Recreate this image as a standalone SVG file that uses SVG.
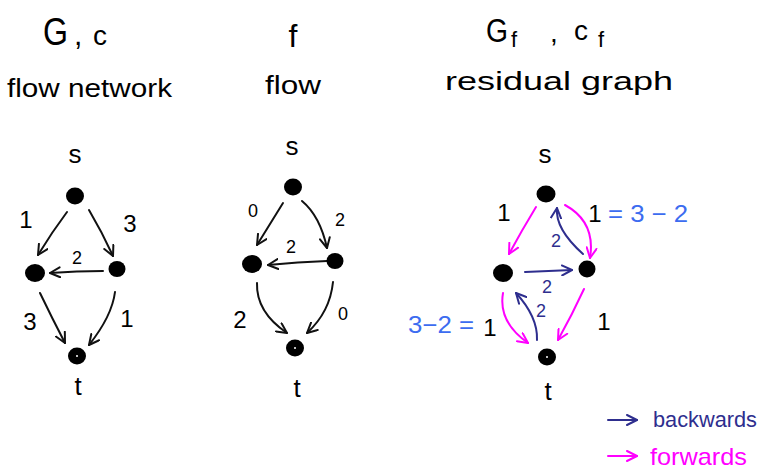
<svg xmlns="http://www.w3.org/2000/svg" width="764" height="473" viewBox="0 0 764 473">
<style>
text{font-family:"Liberation Sans","DejaVu Sans",sans-serif;}
.t{font-size:26px;fill:#000;text-anchor:middle;}
.lbl{font-size:24px;fill:#000;text-anchor:middle;}
.sm{font-size:18px;text-anchor:middle;}
.e{fill:none;stroke-width:2;stroke-linecap:round;}
.k{stroke:#111;}
.n{stroke:#2e2e8e;}
.m{stroke:#ff00ff;}
.node{fill:#000;}
.blue{fill:#3c6cf0;font-size:24px;}
</style>
<defs>
<marker id="ak" viewBox="0 0 12 12" refX="11" refY="6" markerWidth="12" markerHeight="12" markerUnits="userSpaceOnUse" orient="auto"><path d="M1,1 L11,6 L1,11" fill="none" stroke="#111" stroke-width="2" stroke-linecap="round" stroke-linejoin="round"/></marker>
<marker id="an" viewBox="0 0 12 12" refX="11" refY="6" markerWidth="12" markerHeight="12" markerUnits="userSpaceOnUse" orient="auto"><path d="M1,1 L11,6 L1,11" fill="none" stroke="#2e2e8e" stroke-width="2" stroke-linecap="round" stroke-linejoin="round"/></marker>
<marker id="am" viewBox="0 0 12 12" refX="11" refY="6" markerWidth="12" markerHeight="12" markerUnits="userSpaceOnUse" orient="auto"><path d="M1,1 L11,6 L1,11" fill="none" stroke="#ff00ff" stroke-width="2" stroke-linecap="round" stroke-linejoin="round"/></marker>
</defs>

<g id="titles">
<text x="43" y="45" font-size="38" textLength="25" lengthAdjust="spacingAndGlyphs">G</text>
<text x="74" y="45" font-size="30">,</text>
<text x="93" y="45" font-size="28">c</text>
<text x="7" y="97" font-size="26" textLength="165" lengthAdjust="spacingAndGlyphs">flow network</text>
<text x="293" y="47" font-size="32" text-anchor="middle">f</text>
<text x="265" y="94" font-size="26" textLength="56" lengthAdjust="spacingAndGlyphs">flow</text>
<text x="486" y="42" font-size="34" textLength="22" lengthAdjust="spacingAndGlyphs">G</text>
<text x="511" y="47" font-size="22">f</text>
<text x="550" y="42" font-size="28">,</text>
<text x="574" y="40" font-size="28">c</text>
<text x="598" y="47" font-size="22">f</text>
<text x="445" y="90" font-size="26" textLength="228" lengthAdjust="spacingAndGlyphs">residual graph</text>
</g>

<g id="connectors">
<!-- left graph -->
<path class="e k" d="M67,212 Q52,232 38,255" marker-end="url(#ak)"/>
<path class="e k" d="M89,210 Q102,232 113,256" marker-end="url(#ak)"/>
<path class="e k" d="M103,271 Q77,271 50,273" marker-end="url(#ak)"/>
<path class="e k" d="M40,293 Q52,318 65,343" marker-end="url(#ak)"/>
<path class="e k" d="M115,292 Q112,316 89,345" marker-end="url(#ak)"/>
<!-- middle graph -->
<path class="e k" d="M283,203 Q270,224 257,245" marker-end="url(#ak)"/>
<path class="e k" d="M302,201 Q320,216 327,248" marker-end="url(#ak)"/>
<path class="e k" d="M327,261 Q298,262 268,265" marker-end="url(#ak)"/>
<path class="e k" d="M257,283 Q256,312 287,333" marker-end="url(#ak)"/>
<path class="e k" d="M333,282 Q330,312 307,333" marker-end="url(#ak)"/>
<!-- residual graph -->
<path class="e m" d="M536,207 Q522,230 509,254" marker-end="url(#am)"/>
<path class="e m" d="M565,205 Q596,222 590,258" marker-end="url(#am)"/>
<path class="e n" d="M583,254 Q555,229 557,208" marker-end="url(#an)"/>
<path class="e n" d="M525,272 Q548,271 572,270" marker-end="url(#an)"/>
<path class="e m" d="M503,293 Q498,322 528,343" marker-end="url(#am)"/>
<path class="e n" d="M537,340 Q538,317 516,293" marker-end="url(#an)"/>
<path class="e m" d="M584,289 Q572,315 558,340" marker-end="url(#am)"/>
<!-- legend -->
<path class="e n" d="M608,420 L637,420" marker-end="url(#an)"/>
<path class="e m" d="M608,456 L637,456" marker-end="url(#am)"/>
</g>

<g id="edge-labels">
<text class="lbl" x="26" y="228">1</text>
<text class="lbl" x="130" y="232" font-size="30">3</text>
<text class="sm" x="77" y="264">2</text>
<text class="lbl" x="30" y="330" font-size="30">3</text>
<text class="lbl" x="127" y="327">1</text>

<text class="sm" x="253" y="217">0</text>
<text class="sm" x="340" y="226" font-size="20">2</text>
<text class="sm" x="291" y="253">2</text>
<text class="lbl" x="240" y="328" font-size="28">2</text>
<text class="sm" x="343" y="320">0</text>

<text class="lbl" x="504" y="221" fill="#ff00ff">1</text>
<text class="lbl" x="595" y="222" fill="#ff00ff">1</text>
<text class="blue" x="608" y="222" textLength="80" lengthAdjust="spacingAndGlyphs">= 3 − 2</text>
<text class="blue" x="408" y="333" textLength="66" lengthAdjust="spacingAndGlyphs">3−2 =</text>
<text class="lbl" x="490" y="336" fill="#ff00ff">1</text>
<text class="lbl" x="604" y="330" fill="#ff00ff">1</text>
<text class="sm" x="556" y="247" fill="#2e2e8e">2</text>
<text class="sm" x="547" y="293" fill="#2e2e8e">2</text>
<text class="sm" x="541" y="317" fill="#2e2e8e">2</text>
</g>

<g id="node-s1"><ellipse class="node" cx="75" cy="196" rx="9" ry="8.5"/><text class="t" x="75" y="163">s</text></g>
<g id="node-a1"><ellipse class="node" cx="35" cy="273" rx="10" ry="9"/></g>
<g id="node-b1"><ellipse class="node" cx="117" cy="269" rx="8.5" ry="8"/></g>
<g id="node-t1"><ellipse class="node" cx="77" cy="356" rx="9" ry="8.5"/><circle cx="77" cy="356" r="1" fill="#fff"/><text class="t" x="78" y="395">t</text></g>

<g id="node-s2"><ellipse class="node" cx="293" cy="187" rx="9" ry="8.5"/><text class="t" x="292" y="155">s</text></g>
<g id="node-a2"><ellipse class="node" cx="252" cy="264" rx="10" ry="9"/></g>
<g id="node-b2"><ellipse class="node" cx="335" cy="261" rx="8.5" ry="8"/></g>
<g id="node-t2"><ellipse class="node" cx="295" cy="348" rx="9" ry="8.5"/><circle cx="295" cy="348" r="1" fill="#fff"/><text class="t" x="297" y="397">t</text></g>

<g id="node-s3"><ellipse class="node" cx="546" cy="194" rx="9.5" ry="8.5"/><text class="t" x="545" y="163">s</text></g>
<g id="node-a3"><ellipse class="node" cx="503" cy="273" rx="10" ry="9"/></g>
<g id="node-b3"><ellipse class="node" cx="587" cy="269" rx="8.5" ry="8.5"/></g>
<g id="node-t3"><ellipse class="node" cx="547" cy="357" rx="9" ry="8.5"/><circle cx="547" cy="357" r="1" fill="#fff"/><text class="t" x="548" y="400">t</text></g>

<g id="legend">
<text x="653" y="427" font-size="22" fill="#2e2e8e" textLength="104" lengthAdjust="spacingAndGlyphs">backwards</text>
<text x="650" y="465" font-size="24" fill="#ff00ff" textLength="97" lengthAdjust="spacingAndGlyphs">forwards</text>
</g>
</svg>
